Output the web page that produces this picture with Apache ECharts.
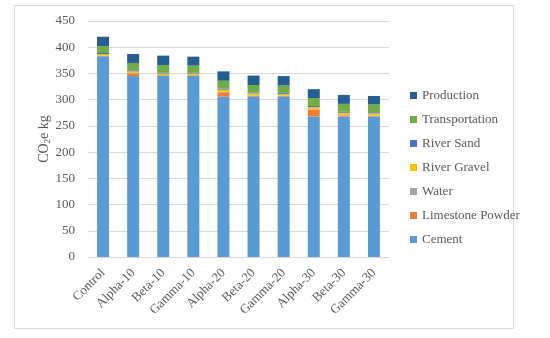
<!DOCTYPE html>
<html><head><meta charset="utf-8">
<script src="https://cdn.jsdelivr.net/npm/echarts@6/dist/echarts.min.js"></script>
<style>html,body{margin:0;padding:0;background:#fff}#c{width:550px;height:338px}</style>
</head><body><div id="c"></div>
<script>
var categories = ['Control','Alpha-10','Beta-10','Gamma-10','Alpha-20','Beta-20','Gamma-20','Alpha-30','Beta-30','Gamma-30'];
var cement         = [383,345,345,345,306,306,306,268,268,268];
var limestone      = [0,5,1,1,8,1,1,13,2,1];
var water          = [1,1,1,1,1,1,1,1,1,1];
var riverGravel    = [3,3,3,3,4,4,3,4,4,4];
var riverSand      = [2,2,2,2,2,2,2,2,2,2];
var transportation = [13,14,14,13,15,14,14,15,15,15];
var production     = [18,17,18,17,18,18,18,17,17,16];
var yTicks = [0,50,100,150,200,250,300,350,400,450];

var font = 'Liberation Serif, Times New Roman, serif';
var names = ['Cement','Limestone Powder','Water','River Gravel','River Sand','Transportation','Production'];
var colors = ['#5B9BD5','#ED7D31','#A5A5A5','#FFC000','#4472C4','#70AD47','#255E91'];
var datas = [cement,limestone,water,riverGravel,riverSand,transportation,production];
var series = names.map(function(n,i){
  return {name:n,type:'bar',stack:'t',data:datas[i],barWidth:12,itemStyle:{color:colors[i]},animation:false};
});
var chart = echarts.init(document.getElementById('c'),null,{renderer:'canvas'});
chart.setOption({
  animation:false,
  graphic:[{type:'rect',shape:{x:14.5,y:5.5,width:499,height:323},style:{fill:'none',stroke:'#D9D9D9',lineWidth:1},z:-1}],
  grid:{left:88,right:161,top:21,bottom:81},
  legend:{orient:'vertical',left:405,top:84,itemWidth:7,itemHeight:7,itemGap:11,icon:'rect',
    data:names.slice().reverse(),textStyle:{fontFamily:font,fontSize:13,color:'#595959'}},
  xAxis:{type:'category',data:categories,axisTick:{show:false},
    axisLine:{lineStyle:{color:'#D9D9D9'}},
    axisLabel:{rotate:45,interval:0,fontFamily:font,fontSize:13,color:'#595959',margin:14}},
  yAxis:{type:'value',min:0,max:450,interval:50,
    name:'{a|CO}{b|2}{a|e kg}',nameLocation:'middle',nameGap:36,nameRotate:90,nameMoveOverlap:false,
    nameTextStyle:{rich:{a:{fontFamily:font,fontSize:14,color:'#595959'},b:{fontFamily:font,fontSize:9,color:'#595959',verticalAlign:'bottom',padding:[6,0,0,0]}}},
    axisLine:{show:false},axisTick:{show:false},
    splitLine:{lineStyle:{color:'#D9D9D9'}},
    axisLabel:{fontFamily:font,fontSize:13,color:'#595959',margin:13,
      formatter:function(v){return yTicks.indexOf(v)>=0?String(v):'';}}},
  series:series
});
</script></body></html>
